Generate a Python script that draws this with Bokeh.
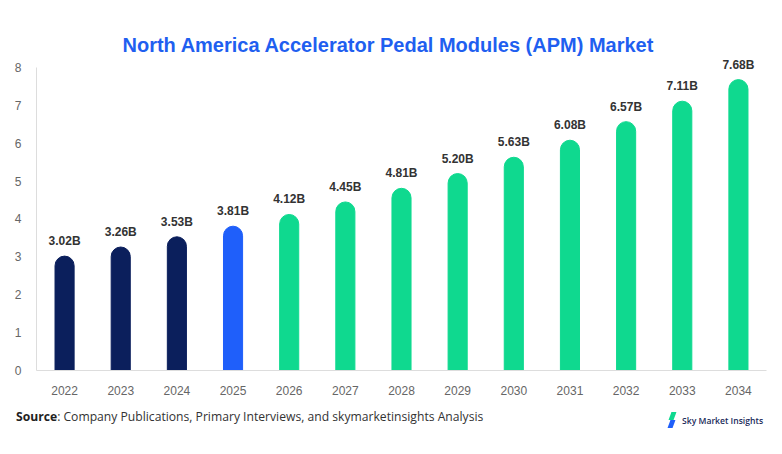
from bokeh.plotting import figure
from bokeh.models import ColumnDataSource, FixedTicker, Range1d, Div
from bokeh.layouts import column
from bokeh.core.properties import value
from bokeh.embed import file_html
from bokeh.resources import INLINE

title_text = "North America Accelerator Pedal Modules (APM) Market"
years = ["2022", "2023", "2024", "2025", "2026", "2027", "2028", "2029", "2030", "2031", "2032", "2033", "2034"]
market = [3.02, 3.26, 3.53, 3.81, 4.12, 4.45, 4.81, 5.20, 5.63, 6.08, 6.57, 7.11, 7.68]
labels = ["3.02B", "3.26B", "3.53B", "3.81B", "4.12B", "4.45B", "4.81B", "5.20B", "5.63B", "6.08B", "6.57B", "7.11B", "7.68B"]
y_ticks = [0, 1, 2, 3, 4, 5, 6, 7, 8]
source_text = ": Company Publications, Primary Interviews, and skymarketinsights Analysis"
brand = "Sky Market Insights"

NAVY = "#0B1F5C"
BLUE = "#1F5FFA"
GREEN = "#0FD98F"
colors = [NAVY] * 3 + [BLUE] + [GREEN] * 9

src = ColumnDataSource(dict(x=years, top=market, lab=labels, color=colors))

p = figure(x_range=years, y_range=Range1d(0, 8.29), width=782, height=400,
           output_backend="svg", toolbar_location=None, title=title_text,
           min_border_left=36, min_border_right=16, min_border_top=56, min_border_bottom=30)
p.title.align = "left"
p.title.offset = 86
p.title.text_font = "Liberation Sans"
p.title.text_font_size = "20px"
p.title.text_font_style = "bold"
p.title.text_color = "#1F5FF0"
p.title.standoff = 1
p.outline_line_color = None
p.xgrid.grid_line_color = None
p.ygrid.grid_line_color = None
p.background_fill_color = "white"
p.border_fill_color = "white"

p.vbar(x="x", top="top", width=0.34, color="color", source=src,
       border_radius=(10, 10, 0, 0))

p.text(x="x", y="top", text="lab", source=src, text_align="center", text_baseline="bottom",
       y_offset=-8, text_font=value("Liberation Sans"), text_font_style="bold",
       text_font_size="12px", text_color="#333333")

for ax in (p.xaxis[0], p.yaxis[0]):
    ax.axis_line_color = "#dddddd"
    ax.major_tick_line_color = None
    ax.minor_tick_line_color = None
    ax.major_label_text_font = "Liberation Sans"
    ax.major_label_text_font_size = "12px"
    ax.major_label_text_color = "#666666"
p.yaxis.ticker = FixedTicker(ticks=y_ticks)
p.yaxis.bounds = (0, 8)
p.yaxis.major_label_standoff = 9
p.xaxis.major_label_standoff = 9

footer_html = (
    '<div style="position:relative;width:782px;height:54px;font-family:\'Open Sans\';">'
    '<div style="position:absolute;left:16px;top:8px;font-size:12.15px;line-height:18px;color:#333;">'
    '<b style="color:#222;">Source</b>' + source_text + '</div>'
    '<div style="position:absolute;left:668px;top:12px;width:9px;height:16px;">'
    '<div style="position:absolute;left:2px;top:0px;width:5px;height:8px;background:' + GREEN + ';transform:skewX(-20deg);"></div>'
    '<div style="position:absolute;left:1px;top:8px;width:5px;height:8px;background:' + BLUE + ';transform:skewX(-20deg);"></div>'
    '</div>'
    '<div style="position:absolute;left:682px;top:14px;font-size:8.6px;font-weight:600;line-height:14px;color:#1a2a5a;">'
    + brand + '</div>'
    '</div>'
)
footer = Div(text=footer_html, width=782, height=54, margin=(0, 0, 0, 0))

layout = column(p, footer, spacing=0)
open("out.html", "w").write(file_html(layout, INLINE))
